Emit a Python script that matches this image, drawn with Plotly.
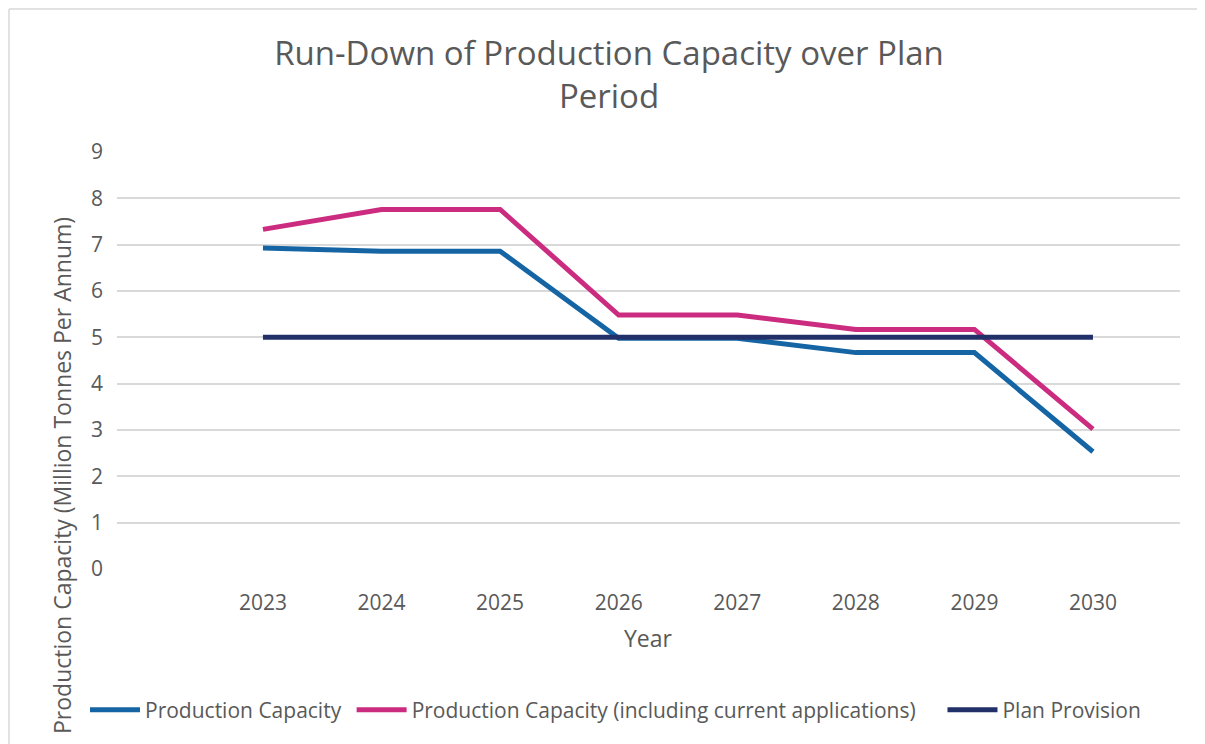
import plotly.graph_objects as go

years = [2023, 2024, 2025, 2026, 2027, 2028, 2029, 2030]
production_capacity = [6.93, 6.86, 6.86, 4.98, 4.98, 4.67, 4.67, 2.53]
production_capacity_apps = [7.33, 7.76, 7.76, 5.48, 5.48, 5.17, 5.17, 3.02]
plan_provision = [5, 5, 5, 5, 5, 5, 5, 5]
series_names = ["Production Capacity",
                "Production Capacity (including current applications)",
                "Plan Provision"]
colors = ["#1565A5", "#CB2C7F", "#22306A"]
# extra legend padding after each entry (non-breaking spaces)
legend_pad = [1, 4, 0]

FONT = "Open Sans"
GREY = "#595959"

fig = go.Figure()
for name, vals, col, pad in zip(series_names,
                                [production_capacity, production_capacity_apps, plan_provision],
                                colors, legend_pad):
    fig.add_trace(go.Scatter(x=years, y=vals, name=name + "\u00a0" * pad, mode="lines",
                             line=dict(color=col, width=5),
                             hovertemplate=name + "<br>%{x}: %{y}<extra></extra>"))

# page has an 8px body margin; all pixel targets below are page coords minus 8
OFF = 8
W, H = 1205, 744
L = 117 - OFF
T = 152 - OFF
R = W - (1180 - OFF)
B = H - (569 - OFF)
PW = W - L - R
PH = H - T - B


def px(xpage):
    return (xpage - OFF - L) / PW


def py(ypage):
    return (H - B - (ypage - OFF)) / PH


fig.update_layout(
    width=W, height=H,
    margin=dict(l=L, r=R, t=T, b=B),
    paper_bgcolor="white", plot_bgcolor="white",
    font=dict(family=FONT, color=GREY),
    title=dict(text="Run-Down of Production Capacity over Plan<br>Period",
               font=dict(size=33, color=GREY, family=FONT),
               x=(609 - OFF) / W, xref="container", xanchor="center",
               y=1 - (65 - OFF) / H, yref="container", yanchor="middle"),
    xaxis=dict(range=[2021.769, 2030.734], tickvals=years,
               ticktext=[str(y) for y in years],
               showgrid=False, zeroline=False, showline=False, ticks="",
               tickfont=dict(size=21, color=GREY, family=FONT),
               ticklabelstandoff=19),
    yaxis=dict(range=[0, 9], tickvals=list(range(10)),
               showgrid=True, gridcolor="#D9D9D9", gridwidth=1.5,
               zeroline=False, showline=False, ticks="",
               tickfont=dict(size=21, color=GREY, family=FONT),
               ticklabelstandoff=13),
    legend=dict(orientation="h", x=px(85), xanchor="left",
                y=py(710), yanchor="middle",
                font=dict(size=21, color=GREY, family=FONT),
                itemwidth=50, tracegroupgap=0),
    showlegend=True,
)

fig.add_annotation(text="Year", xref="paper", yref="paper",
                   x=px(648), y=py(638),
                   xanchor="center", yanchor="middle", showarrow=False,
                   font=dict(size=23, color=GREY, family=FONT))
fig.add_annotation(text="Production Capacity (Million Tonnes Per Annum)",
                   xref="paper", yref="paper",
                   x=px(62), y=py(476),
                   xanchor="center", yanchor="middle", textangle=-90,
                   showarrow=False,
                   font=dict(size=23, color=GREY, family=FONT))

# chart-area border (top and left visible)
fig.add_shape(type="line", xref="paper", yref="paper",
              x0=px(9), x1=px(W + 20), y0=py(9), y1=py(9),
              line=dict(color="#D9D9D9", width=1.5))
fig.add_shape(type="line", xref="paper", yref="paper",
              x0=px(9), x1=px(9), y0=py(9), y1=py(H + 20),
              line=dict(color="#D9D9D9", width=1.5))

fig.write_html("out.html")
